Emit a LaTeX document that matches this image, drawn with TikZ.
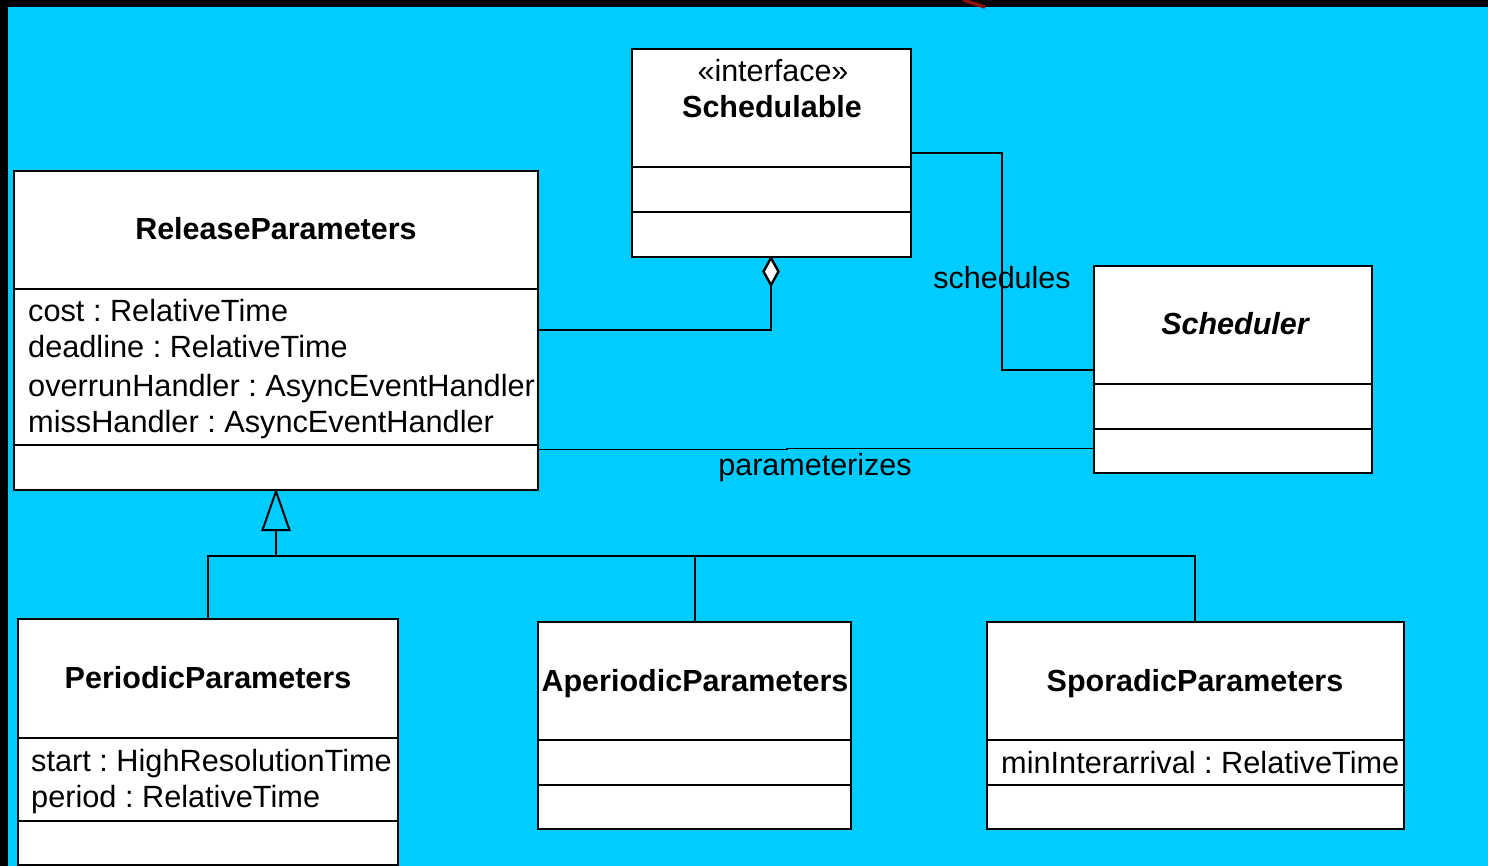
\documentclass[tikz,border=0pt]{standalone}
\usepackage{fontspec}
\setmainfont{Liberation Sans}
\usetikzlibrary{arrows.meta}
\definecolor{sky}{HTML}{00CCFF}
\definecolor{streak}{HTML}{8A1010}
\frenchspacing
\tikzset{
  cls/.style={draw=black, fill=white, line width=2.8pt, inner sep=0pt, rectangle},
  divider/.style={draw=black, line width=2.8pt},
  link/.style={draw=black, line width=1.3pt},
  uml/.style={font=\fontsize{30.5}{36}\selectfont, inner sep=0pt},
  title/.style={uml, font=\fontsize{30.5}{36}\selectfont\bfseries, anchor=base},
  attr/.style={uml, font=\fontsize{30.7}{36}\selectfont, anchor=base west},
  lbl/.style={uml, anchor=base},
}
\begin{document}
\begin{tikzpicture}[x=1pt, y=-1pt]
  % canvas
  \fill[black] (0,0) rectangle (1488,866);
  \useasboundingbox (0,0) rectangle (1488,866);
  \fill[sky] (8,7) rectangle (1488,866);
  \draw[streak, line width=3.5pt] (963,0) -- (985,7);

  % ---- connector bend points ----
  \coordinate (aggA) at (771,330);
  \coordinate (schA) at (1002,153);
  \coordinate (schB) at (1002,370);
  \coordinate (bus)  at (276,556);
  \coordinate (busL) at (208,556);
  \coordinate (busM) at (695,556);
  \coordinate (busR) at (1195,556);

  % ---- classes ----
  \node[cls, minimum width=524, minimum height=319] (rp)  at (276,330.5) {};
  \node[cls, minimum width=279, minimum height=208] (sch) at (771.5,153) {};
  \node[cls, minimum width=278, minimum height=207] (sdr) at (1233,369.5) {};
  \node[cls, minimum width=380, minimum height=246] (pp)  at (208,742) {};
  \node[cls, minimum width=313, minimum height=207] (ap)  at (694.5,725.5) {};
  \node[cls, minimum width=417, minimum height=207] (sp)  at (1195.5,725.5) {};

  % compartments
  \draw[divider] (rp.west |- 0,289)  -- (rp.east |- 0,289);
  \draw[divider] (rp.west |- 0,445)  -- (rp.east |- 0,445);
  \draw[divider] (sch.west |- 0,167) -- (sch.east |- 0,167);
  \draw[divider] (sch.west |- 0,212) -- (sch.east |- 0,212);
  \draw[divider] (sdr.west |- 0,384) -- (sdr.east |- 0,384);
  \draw[divider] (sdr.west |- 0,429) -- (sdr.east |- 0,429);
  \draw[divider] (pp.west |- 0,738)  -- (pp.east |- 0,738);
  \draw[divider] (pp.west |- 0,821)  -- (pp.east |- 0,821);
  \draw[divider] (ap.west |- 0,740)  -- (ap.east |- 0,740);
  \draw[divider] (ap.west |- 0,785)  -- (ap.east |- 0,785);
  \draw[divider] (sp.west |- 0,740)  -- (sp.east |- 0,740);
  \draw[divider] (sp.west |- 0,785)  -- (sp.east |- 0,785);

  % names
  \node[title] (rp-name)  at (276,240) {ReleaseParameters};
  \node[lbl]   (sch-st)   at (773,82)  {«interface»};
  \node[title] (sch-name) at (772,118) {Schedulable};
  \node[title, font=\fontsize{30.5}{36}\selectfont\bfseries\itshape] (sdr-name) at (1235,335) {Scheduler};
  \node[title] (pp-name)  at (208,688) {PeriodicParameters};
  \node[title] (ap-name)  at (695,691) {AperiodicParameters};
  \node[title] (sp-name)  at (1195,691) {SporadicParameters};

  % attributes
  \node[attr] (rp-a1) at (28,322) {cost : RelativeTime};
  \node[attr] (rp-a2) at (28,358) {deadline : RelativeTime};
  \node[attr] (rp-a3) at (28,396) {overrunHandler : AsyncEventHandler};
  \node[attr] (rp-a4) at (28,432) {missHandler : AsyncEventHandler};
  \node[attr] (pp-a1) at (31,771) {start : HighResolutionTime};
  \node[attr] (pp-a2) at (31,807) {period : RelativeTime};
  \node[attr] (sp-a1) at (1001,773) {minInterarrival : RelativeTime};

  % aggregation: ReleaseParameters -- Schedulable
  \draw[link] (rp.east |- aggA) -- (aggA) -- (aggA |- sch.south);
  \draw[black, fill=white, line width=2.4pt, line join=miter]
    (771,258) -- (778.5,271.5) -- (771,285) -- (763.5,271.5) -- cycle;

  % schedules: Schedulable -- Scheduler
  \draw[link] (sch.east |- schA) -- (schA) -- (schB) -- (sdr.west |- schB);
  \node[lbl] (lbl-sch) at (1002,289) {schedules};

  % parameterizes: ReleaseParameters -- Scheduler
  \draw[link] (rp.east |- 0,449.5) -- (787,449.5) -- (787,448.5) -- (sdr.west |- 0,448.5);
  \node[lbl] (lbl-par) at (815,475) {parameterizes};

  % generalization into ReleaseParameters
  \draw[link] (busL |- pp.north) -- (busL) -- (busR) -- (busR |- sp.north);
  \draw[link] (busM) -- (busM |- ap.north);
  \draw[link] (bus) -- (276,530);
  \draw[black, fill=sky, line width=2pt, line join=miter]
    (rp.south) -- (289.5,530) -- (262.5,530) -- cycle;
\end{tikzpicture}
\end{document}
